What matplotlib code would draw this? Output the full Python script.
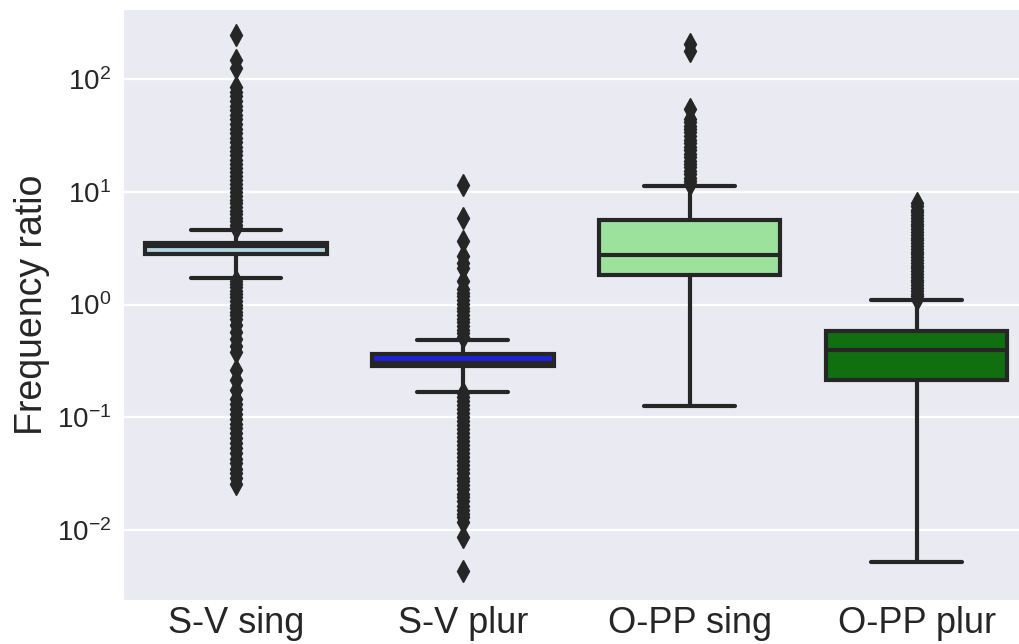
import matplotlib
matplotlib.use("Agg")
import matplotlib.pyplot as plt
import seaborn as sns

# categorias y colores
categorias = ["S-V sing", "S-V plur", "O-PP sing", "O-PP plur"]
colores = ["lightblue", "blue", "lightgreen", "green"]

# estadisticos (q1, mediana, q3, bigotes)
q1 = [2.79, 0.286, 1.81, 0.216]
mediana = [3.31, 0.303, 2.77, 0.391]
q3 = [3.49, 0.366, 5.67, 0.58]
bigote_bajo = [1.73, 0.169, 0.127, 0.0052]
bigote_alto = [4.61, 0.489, 11.35, 1.09]

# valores atipicos
atip_sv_sing = [4.8, 5.1, 5.5, 5.9, 6.3, 6.8, 7.3, 7.9, 8.5, 9.2, 10.0, 10.8, 11.7,
                12.7, 13.8, 15.0, 16.3, 17.7, 19.3, 21, 23, 25, 27.5, 30, 33, 36, 40,
                44, 48, 53, 58, 64, 70, 77, 84, 126, 148, 243,
                1.62, 1.52, 1.42, 1.33, 1.24, 1.16, 1.08, 1.0, 0.93, 0.86, 0.8, 0.74,
                0.66, 0.57, 0.49, 0.43, 0.38, 0.265, 0.216, 0.176, 0.144, 0.13, 0.118,
                0.107, 0.097, 0.088, 0.08, 0.072, 0.065, 0.059, 0.053, 0.048, 0.043,
                0.039, 0.035, 0.032, 0.029, 0.0255]
atip_sv_plur = [0.52, 0.56, 0.6, 0.65, 0.7, 0.75, 0.81, 0.87, 0.94, 1.01, 1.09, 1.18,
                1.27, 1.37, 1.61, 2.11, 2.34, 2.68, 3.64, 5.87, 11.4,
                0.165, 0.152, 0.14, 0.129, 0.119, 0.11, 0.101, 0.093, 0.086, 0.079,
                0.073, 0.067, 0.062, 0.057, 0.052, 0.048, 0.044, 0.041, 0.038, 0.035,
                0.032, 0.029, 0.027, 0.025, 0.023, 0.021, 0.0195, 0.018, 0.0165,
                0.0152, 0.014, 0.0131, 0.0117, 0.0086, 0.0043]
atip_opp_sing = [11.6, 12.4, 13.3, 14.3, 15.3, 16.4, 17.6, 18.9, 20.3, 21.8, 23.4,
                 25.1, 27, 29, 31, 33.5, 36, 38.5, 41.5, 44, 54, 176, 202]
atip_opp_plur = [1.12, 1.18, 1.25, 1.32, 1.4, 1.48, 1.57, 1.66, 1.76, 1.86, 1.97,
                 2.09, 2.21, 2.34, 2.48, 2.62, 2.78, 2.94, 3.11, 3.3, 3.5, 3.7, 3.92,
                 4.15, 4.4, 4.65, 4.93, 5.2, 5.5, 5.85, 6.2, 6.55, 6.95, 7.4, 7.9]
atipicos = [atip_sv_sing, atip_sv_plur, atip_opp_sing, atip_opp_plur]

sns.set_style("darkgrid")
plt.rcParams["font.family"] = ["Liberation Sans", "DejaVu Sans"]

gris = "#262626"
stats = []
for i, nombre in enumerate(categorias):
    stats.append(dict(label=nombre, q1=q1[i], med=mediana[i], q3=q3[i],
                      whislo=bigote_bajo[i], whishi=bigote_alto[i],
                      fliers=atipicos[i]))

fig = plt.figure(figsize=(10.19, 6.44), dpi=100)
ax = fig.add_axes([122.5 / 1019, 44 / 644, 907.5 / 1019, 591 / 644])
lw = 3
bp = ax.bxp(stats, positions=range(4), widths=0.8, patch_artist=True,
            boxprops=dict(edgecolor=gris, linewidth=lw),
            medianprops=dict(color=gris, linewidth=lw),
            whiskerprops=dict(color=gris, linewidth=lw),
            capprops=dict(color=gris, linewidth=lw),
            flierprops=dict(marker="d", markerfacecolor=gris, markeredgecolor=gris,
                            markersize=11, linestyle="none"))
for caja, c in zip(bp["boxes"], colores):
    caja.set_facecolor(sns.desaturate(c, 0.75))

ax.set_yscale("log")
ax.set_ylim(10 ** -2.62, 10 ** 2.62)
ax.set_xlim(-0.5, 3.5)
ax.xaxis.grid(False)
ax.yaxis.grid(True, which="major", color="white", linewidth=1.6)
ax.set_xticks(range(4))
ax.set_xticklabels(categorias)
ax.tick_params(axis="x", labelsize=26, pad=4, length=0)
ax.tick_params(axis="y", labelsize=20, pad=8, length=0, which="both")
ax.set_ylabel("Frequency ratio", fontsize=27, labelpad=5)

fig.savefig("out.png", dpi=100)
